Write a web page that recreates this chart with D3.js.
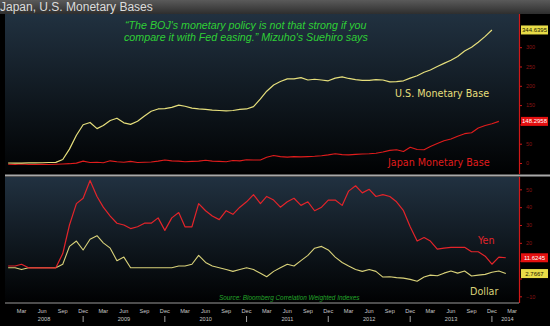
<!DOCTYPE html>
<html>
<head>
<meta charset="utf-8">
<script src="https://cdn.jsdelivr.net/npm/d3@7"></script>
<style>
  html, body { margin: 0; padding: 0; background: #000; }
  svg { display: block; }
</style>
</head>
<body>
<svg id="chart" width="550" height="326"></svg>
<script>
// Monthly series, first point = January 2008
const usBase = [ // % change of U.S. monetary base since Jan 2008
  0, -0.4, -0.2, 0.1, 0.2, 0.6, 1.3, 1.7, 9, 36, 72, 99,
  105, 89, 97, 110, 116, 104, 100, 108, 122, 134, 140, 141,
  144, 150, 147, 142, 140, 139, 137, 136, 135, 136, 139, 140,
  146, 166, 186, 202, 211, 218, 218, 221, 215, 217, 215, 213,
  220, 223, 219, 216, 214, 214, 216, 215, 210, 211, 213, 220,
  226, 235, 241, 250, 258, 266, 276, 290, 300, 313, 328, 344.6395
];
const jpBase = [ // % change of Japan monetary base since Jan 2008
  -3, -4, -2, -4, -4, -3, -4, -3, -2, -1, 1, 8,
  3, 4, 2, 9, 6, 4, 7, 3, 4, 5, 8, 12,
  9, 8, 6, 7, 8, 11, 8, 7, 6, 10, 9, 13,
  12, 12, 22, 28, 24, 22, 24, 23, 24, 25, 27, 30,
  34, 31, 30, 32, 33, 34, 36, 40, 46, 48, 42, 57,
  49, 48, 60, 70, 80, 86, 96, 105, 108, 125, 134, 140,
  148.2958
];
const yenIdx = [ // Bloomberg correlation-weighted yen index
  7, 7, 8, 6, 6, 6, 6, 6, 14, 30, 42, 45,
  55, 46, 40, 35, 31, 30, 28, 29, 31, 31, 34, 27,
  34, 37, 29, 29, 42, 38, 35, 33, 38, 36, 40, 43,
  47, 42, 46, 44, 40, 43, 45, 41, 43, 38, 40, 44,
  44, 41, 49, 52, 48, 50, 46, 47, 46, 43, 38, 29,
  21, 23, 21, 16.5, 17, 17.5, 17.5, 17.5, 15, 15, 12.5, 8,
  12, 11.6245
];
const dollarIdx = [ // Bloomberg correlation-weighted dollar index
  6, 6, 5, 6, 6, 6, 6, 6, 8, 18, 21, 16,
  22, 24, 20, 17, 10, 12, 6, 6, 6, 6, 6, 6,
  6, 7, 7, 8, 13, 9, 7, 6, 5, 4, 5, 6,
  5, 3, 1, 4, 6, 8, 7, 10, 13, 17, 18, 16,
  12, 9, 7, 5, 4, 5, 4, 0.8, 1, 0.5, 0.2, -0.5,
  -1.5, 0.8, 1.9, 1.5, 3, 4.2, 3, 4.2, 1.4, 1.9, 2.3, 3.5,
  4.2, 2.7667
];
const topTicks = [0, 50, 100, 150, 200, 250, 300];
const bottomTicks = [-10, 0, 10, 20, 30, 40, 50];
const monthNames = ["Jan","Feb","Mar","Apr","May","Jun","Jul","Aug","Sep","Oct","Nov","Dec"];
const tickMonths = [2, 5, 8, 11]; // Mar, Jun, Sep, Dec
const firstYear = 2008, lastYear = 2014;

const svg = d3.select("#chart");
const W = 550, H = 326;
const left = 5, right = 519;
const top1 = 14, bot1 = 172;    // upper panel
const top2 = 177, bot2 = 301;   // lower panel
const axisY = 303;

const dateOf = i => new Date(firstYear, i, 15);

const x = d3.scaleTime()
  .domain([new Date(2008, 0, 1), new Date(2014, 3, 15)])
  .range([left, right]);
const yUS = d3.scaleLinear().domain([-23.3, 386]).range([bot1, top1]);
const yJP = d3.scaleLinear().domain([-30.4, 527.5]).range([bot1, top1]);
const yIdx = d3.scaleLinear().domain([-12.9, 57.2]).range([bot2 + 0.5, top2 - 0.5]);

// background
svg.append("rect").attr("width", W).attr("height", H).attr("fill", "#000");

const defs = svg.append("defs");
const grad = defs.append("linearGradient").attr("id", "panelGrad")
  .attr("x1", 0).attr("y1", 0).attr("x2", 0).attr("y2", 1);
grad.append("stop").attr("offset", "0%").attr("stop-color", "#213140");
grad.append("stop").attr("offset", "55%").attr("stop-color", "#0f171e");
grad.append("stop").attr("offset", "100%").attr("stop-color", "#010203");
const tgrad = defs.append("linearGradient").attr("id", "titleGrad")
  .attr("x1", 0).attr("y1", 0).attr("x2", 0).attr("y2", 1);
tgrad.append("stop").attr("offset", "0%").attr("stop-color", "#5a5a5a");
tgrad.append("stop").attr("offset", "100%").attr("stop-color", "#2e2e2e");

// title bar
svg.append("rect").attr("x", 0).attr("y", 0).attr("width", W).attr("height", top1)
  .attr("fill", "url(#titleGrad)");
svg.append("text").attr("x", 0).attr("y", 11)
  .attr("font-family", "Liberation Sans, Arial, sans-serif").attr("font-size", 12)
  .attr("fill", "#dcdcdc").text("Japan, U.S. Monetary Bases");

// panels
svg.append("rect").attr("x", left).attr("y", top1).attr("width", right - left).attr("height", bot1 - top1)
  .attr("fill", "url(#panelGrad)");
svg.append("rect").attr("x", left).attr("y", top2).attr("width", right - left).attr("height", bot2 - top2)
  .attr("fill", "url(#panelGrad)");

// separator between the panels
svg.append("rect").attr("x", left).attr("y", 174.5).attr("width", W - left).attr("height", 2)
  .attr("fill", "#a9a9a9");

// last values get a tag on the axis; tick labels under a tag are left out
const tags = [
  { value: usBase[usBase.length - 1], scale: yUS, bg: "#e8dc48", fg: "#1a1a00" },
  { value: jpBase[jpBase.length - 1], scale: yJP, bg: "#e41010", fg: "#ffffff" },
  { value: yenIdx[yenIdx.length - 1], scale: yIdx, bg: "#e41010", fg: "#ffffff" },
  { value: dollarIdx[dollarIdx.length - 1], scale: yIdx, bg: "#e8dc48", fg: "#1a1a00" }
];
const tagYs = tags.map(t => t.scale(t.value));

// right axes
function rightAxis(scale, ticks, y0, y1) {
  const g = svg.append("g").attr("transform", `translate(${right},0)`);
  g.call(d3.axisRight(scale).tickValues(ticks).tickSize(3).tickPadding(4).tickFormat(d3.format("d")));
  g.select(".domain").remove();
  g.selectAll(".tick line").attr("stroke", "#d01818");
  g.selectAll(".tick text").attr("fill", "#8a1414").attr("font-size", 5.5)
    .attr("font-family", "Liberation Sans, Arial, sans-serif")
    .filter(d => tagYs.some(ty => Math.abs(ty - scale(d)) < 7)).remove();
  svg.append("line").attr("x1", right + 0.5).attr("x2", right + 0.5).attr("y1", y0).attr("y2", y1)
    .attr("stroke", "#d01818").attr("stroke-width", 1.2);
}
rightAxis(yUS, topTicks, top1, bot1 + 2);
rightAxis(yIdx, bottomTicks, top2, bot2 + 2);

// series lines
const n = arr => arr.map((v, i) => [dateOf(i), v]);
function drawLine(data, yScale, color, w) {
  svg.append("path").datum(n(data))
    .attr("fill", "none").attr("stroke", color).attr("stroke-width", w)
    .attr("stroke-linejoin", "round")
    .attr("d", d3.line().x(d => x(d[0])).y(d => yScale(d[1])));
}
const usColor = "#e6df7c", jpColor = "#e01c1c", yenColor = "#e3242a", dolColor = "#d9d27a";
drawLine(jpBase, yJP, jpColor, 1.1);
drawLine(usBase, yUS, usColor, 1.2);
drawLine(dollarIdx, yIdx, dolColor, 1.1);
drawLine(yenIdx, yIdx, yenColor, 1.2);

tags.forEach((t, i) => {
  const yy = tagYs[i];
  svg.append("rect").attr("x", right + 2).attr("y", yy - 4.5).attr("width", 27).attr("height", 9)
    .attr("fill", t.bg);
  svg.append("text").attr("x", right + 15.5).attr("y", yy + 2).attr("text-anchor", "middle")
    .attr("font-family", "Liberation Sans, Arial, sans-serif").attr("font-size", 6)
    .attr("fill", t.fg).text(t.value.toFixed(4));
});

// series names
const lbl = (tx, xx, yy, color, size) => svg.append("text").attr("x", xx).attr("y", yy)
  .attr("font-family", "DejaVu Sans, sans-serif").attr("font-size", size).attr("fill", color).text(tx);
lbl("U.S. Monetary Base", 395, 97, usColor, 9.6);
lbl("Japan Monetary Base", 388, 166, jpColor, 9.6);
lbl("Yen", 478, 244, yenColor, 9.6);
lbl("Dollar", 470, 295, dolColor, 9.6);

// quote
const quote = svg.append("text").attr("font-family", "Liberation Sans, Arial, sans-serif")
  .attr("font-style", "italic").attr("font-size", 10.7).attr("fill", "#2fcf36");
quote.append("tspan").attr("x", 125).attr("y", 29)
  .text("\u201CThe BOJ's monetary policy is not that strong if you");
quote.append("tspan").attr("x", 124).attr("y", 41)
  .text("compare it with Fed easing.\u201D Mizuho's Suehiro says");

// source note
svg.append("text").attr("x", 219).attr("y", 300)
  .attr("font-family", "Liberation Sans, Arial, sans-serif").attr("font-style", "italic")
  .attr("font-size", 6.4).attr("fill", "#22a52a")
  .text("Source: Bloomberg Correlation Weighted Indexes");

// time axis
svg.append("line").attr("x1", left).attr("x2", right).attr("y1", axisY).attr("y2", axisY)
  .attr("stroke", "#9a9a9a").attr("stroke-width", 1.2);
const axisFont = "Liberation Sans, Arial, sans-serif";
const labelDates = [];
for (let yr = firstYear; yr <= lastYear; yr++)
  for (const m of tickMonths) {
    const d = new Date(yr, m, 15);
    if (x(d) <= right) labelDates.push(d);
  }
svg.append("g").selectAll("text").data(labelDates).join("text")
  .attr("x", d => x(d)).attr("y", 313).attr("text-anchor", "middle")
  .attr("font-family", axisFont).attr("font-size", 5.6).attr("fill", "#c8c8c8")
  .text(d => monthNames[d.getMonth()]);
// year separators under December, year names centred between them
const seps = [];
for (let yr = firstYear; yr < lastYear; yr++) seps.push(x(new Date(yr, 11, 15)));
svg.append("g").selectAll("line").data(seps).join("line")
  .attr("x1", d => d).attr("x2", d => d).attr("y1", 316).attr("y2", 322)
  .attr("stroke", "#c8c8c8").attr("stroke-width", 0.8);
const bounds = [left, ...seps, right];
const years = d3.range(firstYear, lastYear + 1);
svg.append("g").selectAll("text").data(years).join("text")
  .attr("x", (d, i) => (bounds[i] + bounds[i + 1]) / 2 + (i === years.length - 1 ? 2 : 0))
  .attr("y", 321).attr("text-anchor", "middle")
  .attr("font-family", axisFont).attr("font-size", 5.6).attr("fill", "#c8c8c8")
  .text(d => d);
</script>
</body>
</html>
